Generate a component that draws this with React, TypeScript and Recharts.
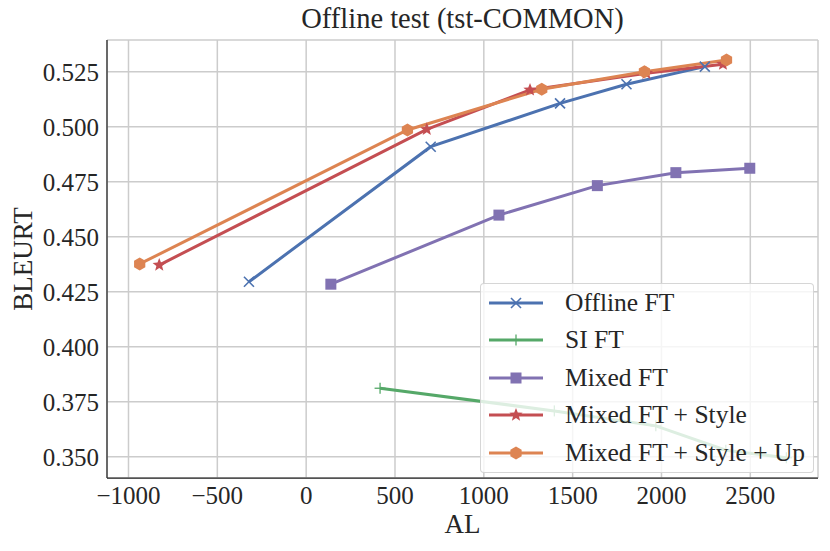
import React from 'react'
import { LineChart, Line, XAxis, YAxis, CartesianGrid, Legend, Label } from 'recharts'

if (typeof document !== 'undefined') document.body.style.margin = '0'

const FONT = '"Liberation Serif", "Times New Roman", serif'
const INK = '#262626'

const xTicks = [-1000, -500, 0, 500, 1000, 1500, 2000, 2500]
const yTicks = [0.35, 0.375, 0.4, 0.425, 0.45, 0.475, 0.5, 0.525]

const offlineAL = [-322, 701, 1429, 1803, 2244]
const offlineBleurt = [0.4295, 0.4909, 0.5106, 0.5193, 0.5273]

const siAL = [416, 1397, 1968, 2362, 2703]
const siBleurt = [0.3811, 0.3708, 0.364, 0.3529, 0.3495]

const mixedAL = [139, 1085, 1639, 2081, 2497]
const mixedBleurt = [0.4284, 0.4598, 0.4732, 0.4791, 0.4811]

const styleAL = [-827, 679, 1260, 1915, 2346]
const styleBleurt = [0.4371, 0.4988, 0.5167, 0.5243, 0.5284]

const upAL = [-937, 570, 1326, 1904, 2366]
const upBleurt = [0.4376, 0.4985, 0.517, 0.525, 0.5303]

type Kind = 'x' | 'plus' | 'square' | 'star' | 'hex'

const series: { name: string; color: string; kind: Kind; al: number[]; bleurt: number[] }[] = [
  { name: 'Offline FT', color: '#4C72B0', kind: 'x', al: offlineAL, bleurt: offlineBleurt },
  { name: 'SI FT', color: '#55A868', kind: 'plus', al: siAL, bleurt: siBleurt },
  { name: 'Mixed FT', color: '#8172B2', kind: 'square', al: mixedAL, bleurt: mixedBleurt },
  { name: 'Mixed FT + Style', color: '#C44E52', kind: 'star', al: styleAL, bleurt: styleBleurt },
  { name: 'Mixed FT + Style + Up', color: '#DD8452', kind: 'hex', al: upAL, bleurt: upBleurt },
]

function polygon(cx: number, cy: number, n: number, r: number, inner?: number) {
  const pts: string[] = []
  const steps = inner ? n * 2 : n
  for (let i = 0; i < steps; i++) {
    const a = -Math.PI / 2 + (i * Math.PI * 2) / steps
    const rr = inner && i % 2 === 1 ? inner : r
    pts.push(`${cx + rr * Math.cos(a)},${cy + rr * Math.sin(a)}`)
  }
  return pts.join(' ')
}

function Marker({ kind, cx, cy, color }: { kind: Kind; cx: number; cy: number; color: string }) {
  if (kind === 'x') {
    const r = 5
    return (
      <g stroke={color} strokeWidth={1.6}>
        <line x1={cx - r} y1={cy - r} x2={cx + r} y2={cy + r} />
        <line x1={cx - r} y1={cy + r} x2={cx + r} y2={cy - r} />
      </g>
    )
  }
  if (kind === 'plus') {
    const r = 5.5
    return (
      <g stroke={color} strokeWidth={1.3}>
        <line x1={cx - r} y1={cy} x2={cx + r} y2={cy} />
        <line x1={cx} y1={cy - r} x2={cx} y2={cy + r} />
      </g>
    )
  }
  if (kind === 'square') return <rect x={cx - 5.5} y={cy - 5.5} width={11} height={11} fill={color} />
  if (kind === 'star') return <polygon points={polygon(cx, cy, 5, 7, 3)} fill={color} />
  return <polygon points={polygon(cx, cy, 6, 6.5)} fill={color} />
}

const tickStyle = { fill: INK, fontSize: 25, fontFamily: FONT }

function renderLegend() {
  return (
    <div
      style={{
        boxSizing: 'border-box',
        width: 334,
        height: 190,
        background: 'rgba(255,255,255,0.8)',
        border: '1px solid rgba(204,204,204,0.8)',
        borderRadius: 4,
        fontFamily: FONT,
        fontSize: 25.5,
        color: INK,
      }}
    >
      {series.map((s) => (
        <div key={s.name} style={{ display: 'flex', alignItems: 'center', height: 37.5 }}>
          <svg width={84} height={20} style={{ flex: 'none' }}>
            <line x1={8} y1={10} x2={62} y2={10} stroke={s.color} strokeWidth={3} />
            <Marker kind={s.kind} cx={35} cy={10} color={s.color} />
          </svg>
          <span style={{ whiteSpace: 'nowrap' }}>{s.name}</span>
        </div>
      ))}
    </div>
  )
}

export default function App() {
  return (
    <div style={{ position: 'relative', width: 830, height: 551, background: '#fff' }}>
      <div
        style={{
          position: 'absolute',
          left: 107,
          width: 711,
          top: 5,
          textAlign: 'center',
          fontFamily: FONT,
          fontSize: 28.5,
          lineHeight: '28.5px',
          color: INK,
          zIndex: 2,
        }}
      >
        Offline test (tst-COMMON)
      </div>
      <LineChart width={830} height={551} margin={{ top: 40, right: 12, bottom: 0, left: 0 }}>
        <CartesianGrid stroke="#cccccc" strokeWidth={1.5} />
        <XAxis
          type="number"
          dataKey="x"
          domain={[-1121, 2881]}
          ticks={xTicks}
          interval={0}
          allowDataOverflow
          height={73}
          tickLine={false}
          axisLine={{ stroke: INK, strokeWidth: 1.25 }}
          tick={tickStyle}
          tickFormatter={(v: number) => String(v).replace('-', '\u2212')}
        >
          <Label
            content={({ viewBox }: any) => (
              <text x={viewBox.x + viewBox.width / 2} y={533} textAnchor="middle" fill={INK} fontSize={27} fontFamily={FONT}>
                AL
              </text>
            )}
          />
        </XAxis>
        <XAxis
          xAxisId="top"
          orientation="top"
          type="number"
          domain={[-1121, 2881]}
          allowDataOverflow
          height={0}
          tick={false}
          tickLine={false}
          axisLine={{ stroke: INK, strokeWidth: 1.25 }}
        />
        <YAxis
          type="number"
          domain={[0.3403, 0.5394]}
          ticks={yTicks}
          interval={0}
          allowDataOverflow
          width={107}
          tickLine={false}
          axisLine={{ stroke: INK, strokeWidth: 1.25 }}
          tick={tickStyle}
          tickFormatter={(v: number) => v.toFixed(3)}
        >
          <Label
            content={({ viewBox }: any) => {
              const cx = 32
              const cy = viewBox.y + viewBox.height / 2
              return (
                <text x={cx} y={cy} transform={`rotate(-90 ${cx} ${cy})`} textAnchor="middle" fill={INK} fontSize={27} fontFamily={FONT}>
                  BLEURT
                </text>
              )
            }}
          />
        </YAxis>
        <YAxis
          yAxisId="right"
          orientation="right"
          type="number"
          domain={[0.3403, 0.5394]}
          allowDataOverflow
          width={0}
          tick={false}
          tickLine={false}
          axisLine={{ stroke: INK, strokeWidth: 1.25 }}
        />
        {series.map((s) => (
          <Line
            key={s.name}
            name={s.name}
            data={s.al.map((x, i) => ({ x, y: s.bleurt[i] }))}
            dataKey="y"
            type="linear"
            stroke={s.color}
            strokeWidth={3}
            isAnimationActive={false}
            dot={(p: any) => <Marker key={`${s.name}-${p.index}`} kind={s.kind} cx={p.cx} cy={p.cy} color={s.color} />}
            activeDot={false}
          />
        ))}
        <Legend
          layout="vertical"
          align="center"
          verticalAlign="middle"
          wrapperStyle={{ position: 'absolute', left: 480, top: 283, width: 334, height: 190 }}
          content={renderLegend}
        />
      </LineChart>
    </div>
  )
}
